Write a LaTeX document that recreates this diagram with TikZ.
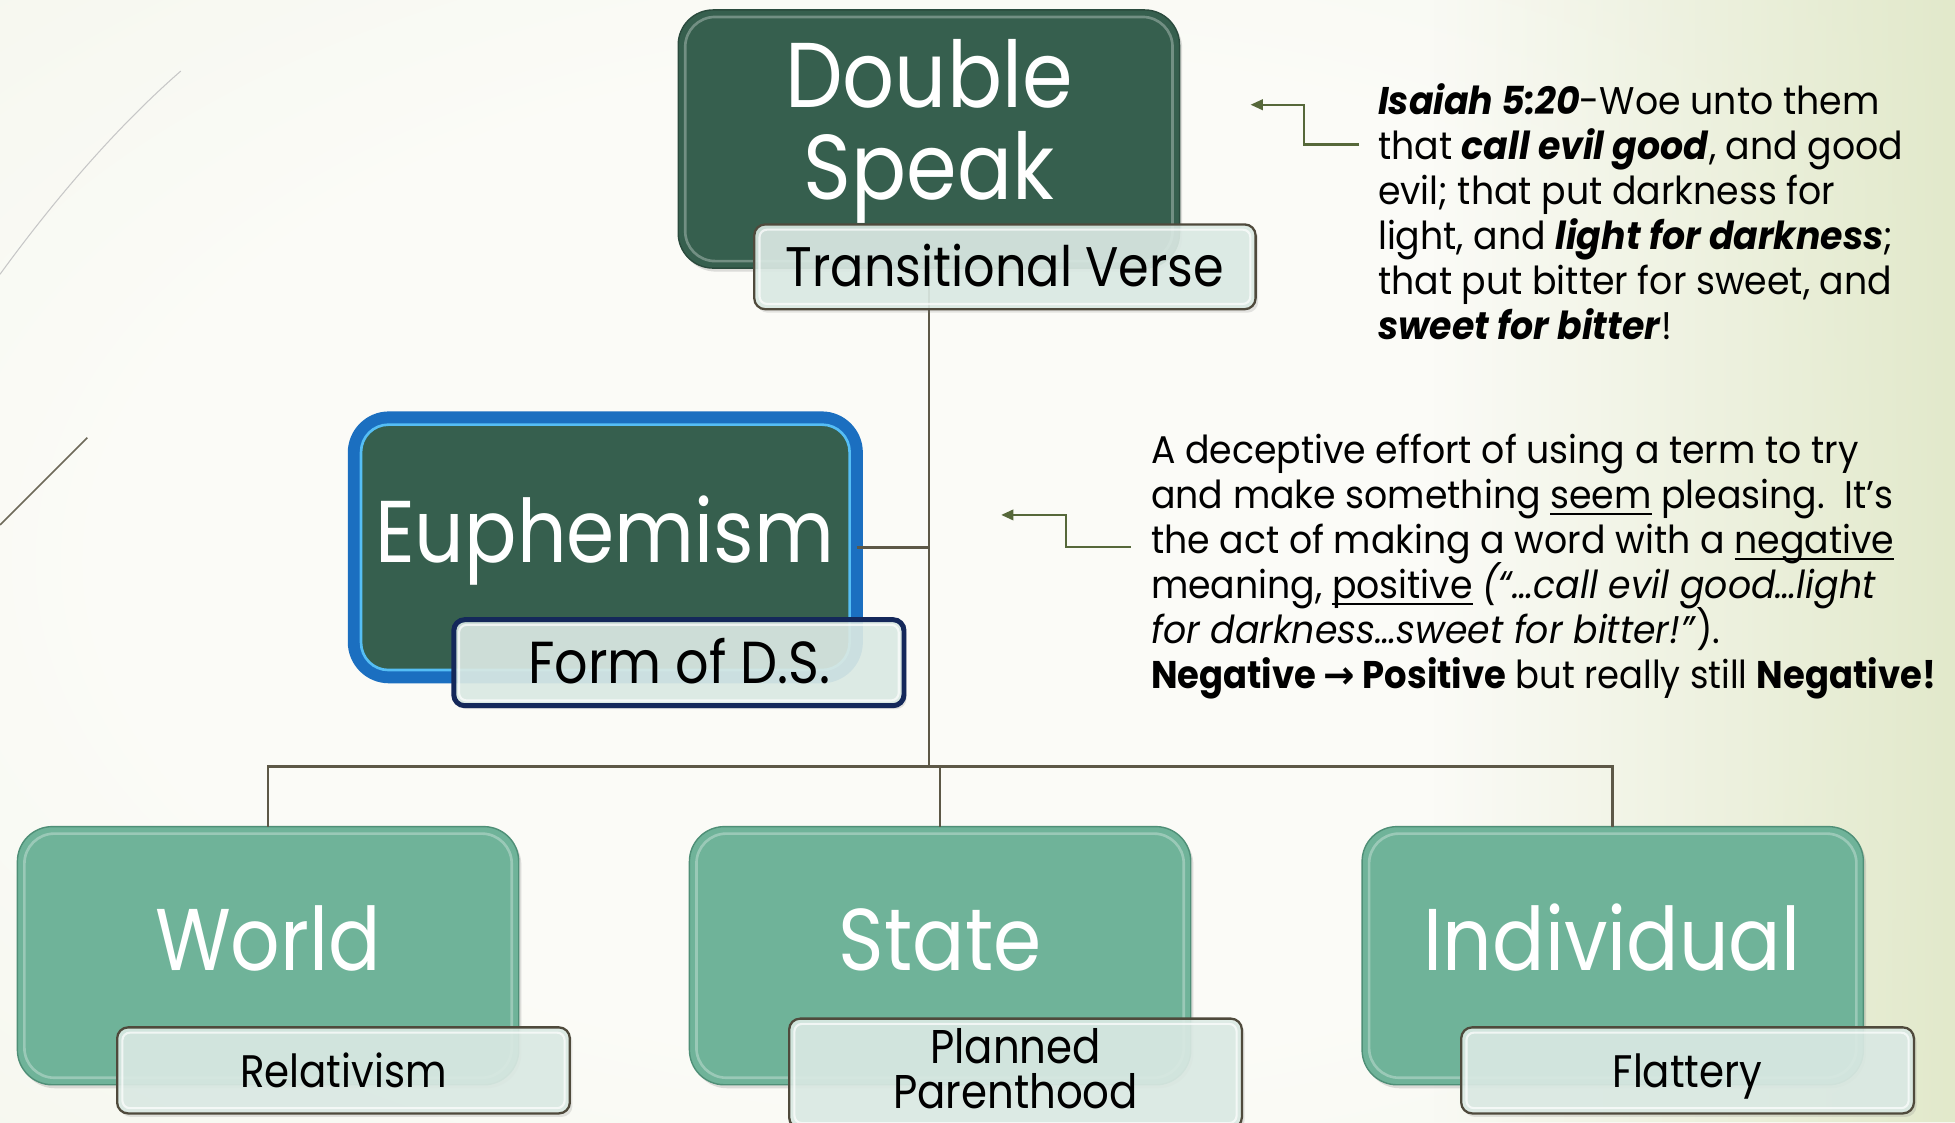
\documentclass[tikz,border=0pt]{standalone}
\usepackage{fontspec}
\setmainfont{Poppins}[FakeStretch=0.94]
\newfontfamily\bigfont{Poppins}[FakeStretch=0.885]
\newfontfamily\arrowfont{DejaVu Sans}
\usetikzlibrary{shadows,arrows.meta,fadings}
\newcommand\myul[1]{\leavevmode\setbox0\hbox{#1}\rlap{\rule[-0.17em]{\wd0}{0.05em}}\box0\relax}
\definecolor{bgIn}{HTML}{FBFBF7}
\definecolor{bgOut}{HTML}{EEF2E2}
\definecolor{bgGreen}{HTML}{E2E9CB}
\definecolor{dkgreen}{HTML}{365F4E}
\definecolor{dkedge}{HTML}{2A4A3D}
\definecolor{mdgreen}{HTML}{6FB399}
\definecolor{mdedge}{HTML}{4F8F77}
\definecolor{subfill}{HTML}{DCEBE5}
\definecolor{subedge}{HTML}{4F4A3C}
\definecolor{navy}{HTML}{14285A}
\definecolor{eublue}{HTML}{1B6FC0}
\definecolor{eulight}{HTML}{55BEF5}
\definecolor{connc}{HTML}{5D5847}
\definecolor{calloutc}{HTML}{56683A}
\pgfdeclareradialshading{bgshade}{\pgfpoint{0bp}{0bp}}{color(0bp)=(bgIn); color(22bp)=(bgIn); color(60bp)=(bgOut); color(72bp)=(bgOut)}
\tikzfading[name=fadeR, left color=transparent!100, right color=transparent!0]
\begin{document}
\begin{tikzpicture}[x=0.025cm,y=-0.025cm,
  box/.style={rectangle, rounded corners=0.7cm, inner sep=0pt, outer sep=0pt, minimum width=10.05cm, minimum height=5.175cm},
  dkbox/.style={box, fill=dkgreen, draw=dkedge, line width=0.8pt, drop shadow={opacity=0.25, shadow xshift=1.5pt, shadow yshift=-2pt}},
  mdbox/.style={box, fill=mdgreen, draw=mdedge, line width=0.8pt, drop shadow={opacity=0.25, shadow xshift=1.5pt, shadow yshift=-2pt}},
  subbox/.style={rectangle, rounded corners=0.22cm, inner sep=0pt, outer sep=0pt, minimum width=9.075cm, minimum height=1.725cm, fill=subfill, fill opacity=0.9, draw=subedge, line width=1.3pt, drop shadow={opacity=0.2, shadow xshift=1.5pt, shadow yshift=-2pt}},
  hl/.style={draw=white, draw opacity=0.3, line width=1.5pt, rounded corners=0.6cm},
  hlsub/.style={draw=white, draw opacity=0.7, line width=1.2pt, rounded corners=0.15cm},
  bigtxt/.style={anchor=base, text=white, font=\bigfont\fontsize{50}{60}\selectfont, inner sep=0pt},
  midtxt/.style={anchor=base, text=black, inner sep=0pt},
  smtxt/.style={anchor=base, text=black, font=\bigfont\fontsize{26}{32}\selectfont, inner sep=0pt},
  para/.style={anchor=north west, align=left, text=black, font={\fontsize{22}{25.6}\selectfont\lineskiplimit=-100pt\lineskip=0pt}, inner sep=0pt},
  conn/.style={draw=connc, line width=1.5pt},
  callout/.style={draw=calloutc, line width=1.3pt, -{Triangle[length=7pt,width=6pt]}}
]
\useasboundingbox (0,0) rectangle (1568,900);
% background
\shade[shading=bgshade] (0,0) rectangle (1568,900);
\fill[bgGreen, path fading=fadeR] (1150,0) rectangle (1568,900);
\draw[draw=black!22, line width=0.6pt] (0,220) .. controls (40,165) and (90,105) .. (145,57);
\draw[draw=connc!90, line width=0.9pt] (0,421) -- (70,351);

% boxes
\coordinate (j) at (745,615);
\node[dkbox] (ds) at (745,111.5) {};
\node[box, fill=dkgreen, draw=eublue, line width=0.25cm, minimum width=10.075cm, minimum height=5.2cm, drop shadow={opacity=0.25, shadow xshift=1.5pt, shadow yshift=-2pt}] (eu) at (485.5,439) {};
\node[mdbox] (world) at (215,766.5) {};
\node[mdbox] (state) at (754,766.5) {};
\node[mdbox] (indiv) at (1293.5,766.5) {};

% connectors
\draw[conn] (ds.south) -- (j);
\draw[conn] (eu.east) -- (eu.east -| j);
\draw[conn] (world.north) |- (j);
\draw[conn] (indiv.north) |- (j);
\draw[conn] (state.north) -- (state.north |- j);

% highlights on main boxes
\draw[hl] ([xshift=4pt,yshift=-4pt]ds.north west) rectangle ([xshift=-4pt,yshift=4pt]ds.south east);
\draw[draw=eulight, line width=1.5pt, rounded corners=0.55cm] ([xshift=4pt,yshift=-4pt]eu.north west) rectangle ([xshift=-4pt,yshift=4pt]eu.south east);
\draw[hl] ([xshift=4pt,yshift=-4pt]world.north west) rectangle ([xshift=-4pt,yshift=4pt]world.south east);
\draw[hl] ([xshift=4pt,yshift=-4pt]state.north west) rectangle ([xshift=-4pt,yshift=4pt]state.south east);
\draw[hl] ([xshift=4pt,yshift=-4pt]indiv.north west) rectangle ([xshift=-4pt,yshift=4pt]indiv.south east);

% big labels
\node[bigtxt, font=\bigfont\fontsize{52.5}{60}\selectfont] (dsT1) at (745,86) {Double};
\node[bigtxt, font=\bigfont\fontsize{52.5}{60}\selectfont] (dsT2) at (745,160) {Speak};
\node[bigtxt] (euT) at (485,451) {Euphemism};
\node[bigtxt] (worldT) at (215,778) {World};
\node[bigtxt] (stateT) at (754,778) {State};
\node[bigtxt] (indivT) at (1293,778) {Individual};

% sub boxes
\node[subbox, minimum width=10.05cm, minimum height=1.7cm] (tv) at (806,214) {};
\node[subbox, draw=navy, line width=0.1cm, minimum width=9.025cm] (fd) at (544.5,531.5) {};
\node[subbox] (rel) at (275.5,858.5) {};
\node[subbox, minimum height=2.2cm] (pp) at (814.5,861) {};
\node[subbox] (fl) at (1353.5,858.5) {};
\foreach \n in {tv,fd,rel,pp,fl}{
  \draw[hlsub] ([xshift=3pt,yshift=-3pt]\n.north west) rectangle ([xshift=-3pt,yshift=3pt]\n.south east);
}

\node[midtxt, font=\bigfont\fontsize{31.8}{40}\selectfont] (tvT) at (806,230) {Transitional Verse};
\node[midtxt, font=\bigfont\fontsize{33.8}{40}\selectfont] (fdT) at (545,548) {Form of D.S.};
\node[smtxt] (relT) at (275.5,872) {Relativism};
\node[smtxt, font=\bigfont\fontsize{27}{32}\selectfont] (ppT1) at (814.5,853) {Planned};
\node[smtxt, font=\bigfont\fontsize{27}{32}\selectfont] (ppT2) at (814.5,889) {Parenthood};
\node[smtxt] (flT) at (1353.5,872) {Flattery};

% text blocks
\node[para] (isa) at (1105,67) {\textbf{\textit{Isaiah 5:20}}-Woe unto them\\
that \textbf{\textit{call evil good}}, and good\\
evil; that put darkness for\\
light, and \textbf{\textit{light for darkness}};\\
that put bitter for sweet, and\\
\textbf{\textit{sweet for bitter}}!};
\node[para] (desc) at (923,348) {A deceptive effort of using a term to try\\
and make something \myul{seem} pleasing.\ \ It’s\\
the act of making a word with a \myul{negative}\\
meaning, \myul{positive} \textit{(“…call evil good…light}\\
\textit{for darkness…sweet for bitter!”}).\\
\scalebox{0.975}[1]{\textbf{Negative {\arrowfont\bfseries →} Positive} but really still \textbf{Negative!}}};

% callout arrows
\coordinate (a1s) at (1090,116);
\coordinate (a1t) at (1003,84);
\draw[callout] (a1s) -- ++(-44,0) |- (a1t);
\coordinate (a2s) at (907,439);
\coordinate (a2t) at (803,413);
\draw[callout] (a2s) -- ++(-52,0) |- (a2t);
\end{tikzpicture}
\end{document}
